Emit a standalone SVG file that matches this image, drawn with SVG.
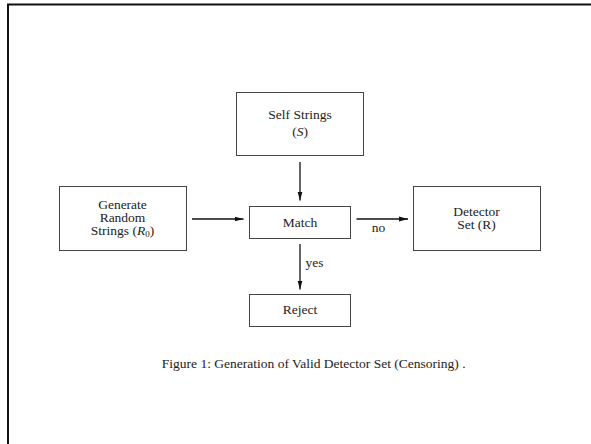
<svg xmlns="http://www.w3.org/2000/svg" width="591" height="444" viewBox="0 0 591 444">
<style>
text{font-family:"Liberation Serif","DejaVu Serif",serif;font-size:13.5px;fill:#222;text-anchor:middle}
.box{fill:#fff;stroke:#444;stroke-width:1}
.edge{stroke:#111;stroke-width:1.3;fill:none;marker-end:url(#ah)}
.frame{stroke:#111;stroke-width:2;fill:none}
.it{font-style:italic}
</style>
<defs>
<marker id="ah" markerWidth="9" markerHeight="6" refX="9" refY="3" orient="auto" markerUnits="userSpaceOnUse">
<path d="M0,0.5 L9,3 L0,5.5 Z" fill="#111"/>
</marker>
</defs>
<rect width="591" height="444" fill="#fff"/>
<path class="frame" d="M8,444 V4.5 H591"/>
<g id="self">
<rect class="box" x="236.5" y="92.5" width="127" height="63"/>
<text x="300" y="119">Self Strings</text>
<text x="300" y="135.5">(<tspan class="it">S</tspan>)</text>
</g>
<g id="generate">
<rect class="box" x="59.5" y="186.5" width="127" height="64"/>
<text x="122.5" y="209">Generate</text>
<text x="122.5" y="222">Random</text>
<text x="122.5" y="235">Strings (<tspan class="it">R</tspan><tspan font-size="9" dy="2">0</tspan><tspan dy="-2">)</tspan></text>
</g>
<g id="match">
<rect class="box" x="249.5" y="206.5" width="101" height="32"/>
<text x="300" y="226.8">Match</text>
</g>
<g id="detector">
<rect class="box" x="413.5" y="186.5" width="127" height="64"/>
<text x="476.5" y="215.8">Detector</text>
<text x="476.5" y="229">Set (R)</text>
</g>
<g id="reject">
<rect class="box" x="249.5" y="294.5" width="101" height="32"/>
<text x="300" y="314.3">Reject</text>
</g>
<g id="connectors">
<line class="edge" x1="300" y1="162" x2="300" y2="200.5"/>
<line class="edge" x1="192" y1="219" x2="243.5" y2="219"/>
<line class="edge" x1="356.5" y1="219" x2="408" y2="219"/>
<line class="edge" x1="300" y1="244" x2="300" y2="289.5"/>
<text x="378.5" y="231.5">no</text>
<text x="314.5" y="266.5">yes</text>
</g>
<text id="caption" x="313.7" y="367.5">Figure 1: Generation of Valid Detector Set (Censoring) .</text>
</svg>
